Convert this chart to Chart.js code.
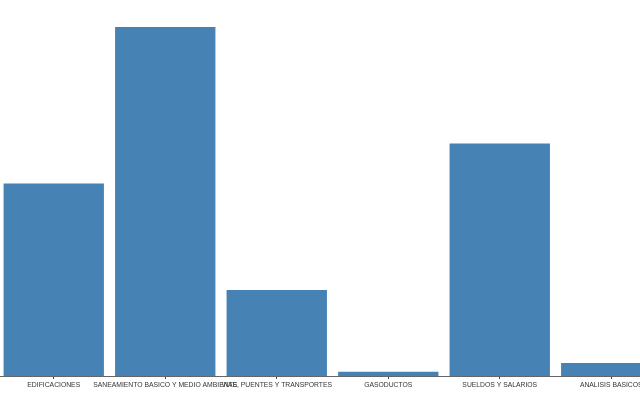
<!DOCTYPE html>
<html>
<head>
<meta charset="utf-8">
<script src="https://cdn.jsdelivr.net/npm/chart.js@4/dist/chart.umd.min.js"></script>
<style>
  html, body { margin: 0; padding: 0; background: #fff; overflow: hidden; width: 640px; height: 400px; }
  #wrap { position: absolute; left: -2px; top: 0; width: 669px; height: 400px; }
</style>
</head>
<body>
<div id="wrap"><canvas id="c" width="669" height="400"></canvas></div>
<script>
const categories = [
  "EDIFICACIONES",
  "SANEAMIENTO BASICO Y MEDIO AMBIENTE",
  "VIAS, PUENTES Y TRANSPORTES",
  "GASODUCTOS",
  "SUELDOS Y SALARIOS",
  "ANALISIS BASICOS"
];
const values = [192.7, 349.3, 86, 4.2, 232.7, 13];

new Chart(document.getElementById('c'), {
  type: 'bar',
  data: {
    labels: categories,
    datasets: [{
      data: values,
      backgroundColor: '#4682B4',
      borderWidth: 0,
      barPercentage: 0.9,
      categoryPercentage: 1.0
    }]
  },
  options: {
    responsive: false,
    animation: false,
    devicePixelRatio: 1,
    layout: { padding: { top: 27, left: 0, right: 0, bottom: 0 } },
    plugins: { legend: { display: false }, tooltip: { enabled: false } },
    scales: {
      x: {
        offset: true,
        border: { display: true, color: '#666', width: 1 },
        grid: { display: true, drawOnChartArea: false, drawTicks: true, tickLength: 3, offset: false, color: '#444' },
        ticks: {
          autoSkip: false, maxRotation: 0, minRotation: 0, padding: 2,
          color: '#333',
          font: { family: '"Liberation Sans", Arial, sans-serif', size: 6.8 }
        },
        afterFit: (s) => { s.height = 24; }
      },
      y: { display: false, min: 0, max: 349.3 }
    }
  }
});
</script>
</body>
</html>
